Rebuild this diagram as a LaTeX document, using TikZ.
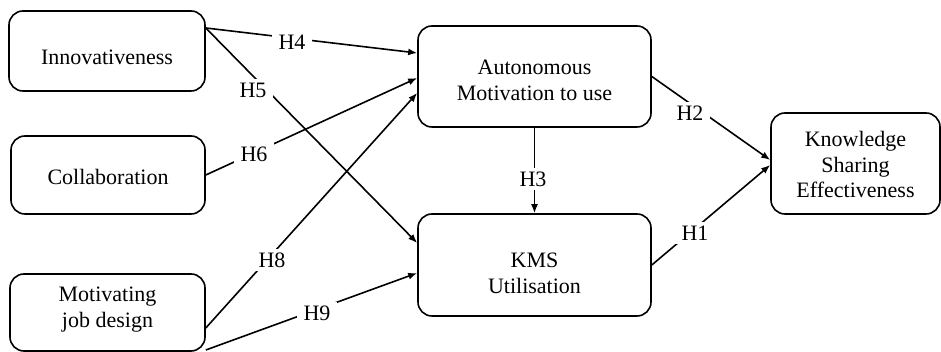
\documentclass[tikz,border=0pt]{standalone}
\usepackage{fontspec}
\setmainfont{Liberation Serif}
\usetikzlibrary{arrows.meta,calc}
\begin{document}
\begin{tikzpicture}[x=1pt,y=1pt,
  box/.style={draw, line width=1.6pt, rounded corners=14pt, inner sep=0pt},
  txt/.style={align=center, inner sep=0pt, font=\fontsize{22}{25.5}\selectfont},
  hyp/.style={fill=white, inner xsep=7pt, inner ysep=4pt, font=\fontsize{22}{25.5}\selectfont},
  arr/.style={line width=1.6pt, -{Latex[length=9pt,width=7pt]}}]
\useasboundingbox (0,0) rectangle (941,352);
% boxes
\node[box, minimum width=196, minimum height=80] (innov) at (107,301) {};
\node[box, minimum width=194, minimum height=78] (collab) at (108,177) {};
\node[box, minimum width=195, minimum height=77] (motiv) at (107.5,39.5) {};
\node[box, minimum width=233, minimum height=101] (auton) at (534.5,275.5) {};
\node[box, minimum width=233, minimum height=102] (kms) at (534.5,87) {};
\node[box, minimum width=169, minimum height=101] (know) at (855.5,188.5) {};
% texts
\node[txt] (innovt) at (107,295) {Innovativeness};
\node[txt] (collabt) at (108,175) {Collaboration};
\node[txt] (motivt) at (107.5,42.5) {Motivating\\job design};
\node[txt] (autont) at (534.5,271.7) {Autonomous\\Motivation to use};
\node[txt] (kmst) at (534.5,78.5) {KMS\\Utilisation};
\node[txt] (knowt) at (855.5,187.5) {Knowledge\\Sharing\\Effectiveness};
% connector end points
\coordinate (innovA) at ([yshift=23]innov.east);
\coordinate (motivA) at ([yshift=-15.5]motiv.east);
\coordinate (motivB) at ([yshift=-37.5]motiv.east);
% connectors
\draw[arr] (innovA) -- ([yshift=23.5]auton.west);
\draw[arr] (innovA) -- ([yshift=22]kms.west);
\draw[arr] (collab.east) -- ([yshift=-1.5]auton.west);
\draw[arr] (motivA) -- ([yshift=-16.5]auton.west);
\draw[arr] (motivB) -- ([yshift=-8]kms.west);
\draw[arr] (auton.south) -- (kms.north);
\draw[arr] (auton.east) -- ([yshift=3.5]know.west);
\draw[arr] (kms.east) -- ([yshift=-1.5]know.west);
% hypothesis labels
\node[hyp] (h4) at (292,310) {H4};
\node[hyp] (h5) at (253,262) {H5};
\node[hyp] (h6) at (254,198) {H6};
\node[hyp] (h8) at (272,92) {H8};
\node[hyp] (h9) at (317,39) {H9};
\node[hyp] (h3) at (533,173) {H3};
\node[hyp] (h2) at (690,239) {H2};
\node[hyp] (h1) at (695,119) {H1};
\end{tikzpicture}
\end{document}
